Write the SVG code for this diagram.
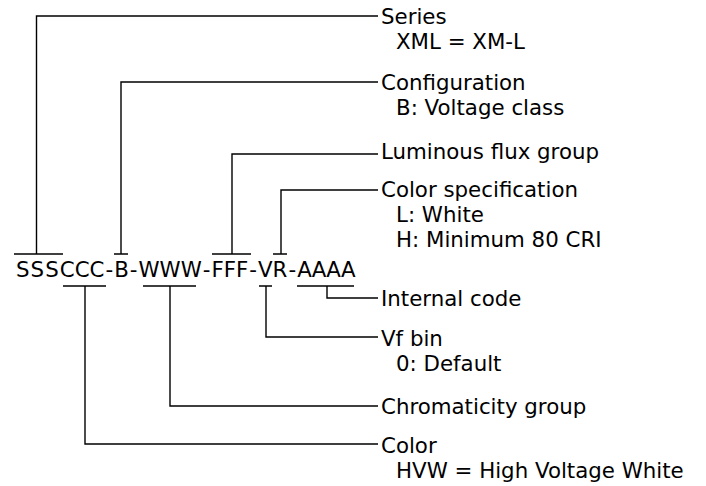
<svg xmlns="http://www.w3.org/2000/svg" width="706" height="486" viewBox="0 0 706 486">
<style>
text{font-family:"DejaVu Sans",Verdana,sans-serif;font-size:21.33px;fill:#000}
.c{fill:none;stroke:#000;stroke-width:1.4}
</style>
<rect width="706" height="486" fill="#fff"/>
<g id="code">
<text x="16 30.59 45.18 59.77 74.66 89.55 105.4 114.15 129.8 138.49 159.59 180.69 202.8 211.5 223.77 236.04 249.3 258.02 272.61 288.4 297.14 311.73 326.32 340.91" y="277">SSSCCC-B-WWW-FFF-VR-AAAA</text>
</g>
<g id="connectors">
<path class="c" d="M14 254H63M36.5 254V16H378"/>
<path class="c" d="M114 254H128M121 254V82H378"/>
<path class="c" d="M212 254H251M232 254V154H378"/>
<path class="c" d="M273 254H287M281 254V190H378"/>
<path class="c" d="M297 286H354M327 286V298H378"/>
<path class="c" d="M259 286H272M266 286V337H378"/>
<path class="c" d="M143 286H196M170 286V406H378"/>
<path class="c" d="M63 286H106M85 286V444H378"/>
</g>
<g id="series"><text x="381" y="24">Series</text><text x="396" y="49">XML = XM-L</text></g>
<g id="configuration"><text x="381" y="90">Configuration</text><text x="396" y="115">B: Voltage class</text></g>
<g id="luminous"><text x="381" y="159">Luminous flux group</text></g>
<g id="colorspec"><text x="381" y="197">Color specification</text><text x="396" y="222">L: White</text><text x="396" y="247">H: Minimum 80 CRI</text></g>
<g id="internal"><text x="381" y="306">Internal code</text></g>
<g id="vfbin"><text x="381" y="346">Vf bin</text><text x="396" y="371">0: Default</text></g>
<g id="chromaticity"><text x="381" y="414">Chromaticity group</text></g>
<g id="color"><text x="381" y="453">Color</text><text x="396" y="478">HVW = High Voltage White</text></g>
</svg>
